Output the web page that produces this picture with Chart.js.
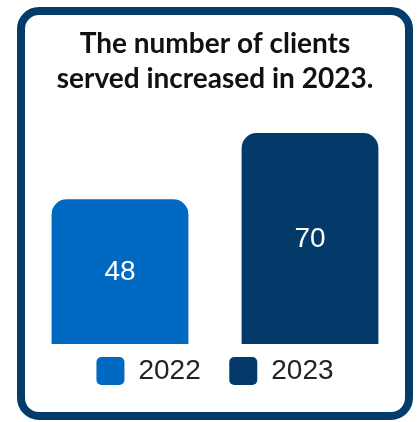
<!DOCTYPE html>
<html lang="en">
<head>
  <meta charset="UTF-8">
  <title>Clients served</title>
  <script src="https://cdn.jsdelivr.net/npm/chart.js"></script>
  <style>
    html, body { margin: 0; padding: 0; background: #fff; }
    .card {
      position: absolute;
      left: 17px; top: 7px;
      width: 396px; height: 413px;
      box-sizing: border-box;
      border: 8px solid #033c6b;
      border-radius: 22px;
      background: #fff;
    }
    .chart-box { position: relative; width: 380px; height: 397px; }
  </style>
</head>
<body>

<div class="card">
  <div class="chart-box">
    <canvas id="grafik"></canvas>
  </div>
</div>

<script>
  const years = ['2022', '2023'];
  const clients = [48, 70];
  const barColors = ['#0069c2', '#033a69'];
  const titleLines = ['The number of clients', 'served increased in 2023.'];

  // white value text in the middle of each bar
  const labelDalamBar = {
    id: 'labelDalamBar',
    afterDatasetsDraw(chart) {
      const ctx = chart.ctx;
      const meta = chart.getDatasetMeta(0);
      ctx.save();
      ctx.fillStyle = '#ffffff';
      ctx.font = '28px "Liberation Sans", Arial, sans-serif';
      ctx.textAlign = 'center';
      ctx.textBaseline = 'middle';
      meta.data.forEach((bar, i) => {
        const mid = (bar.y + bar.base) / 2;
        ctx.fillText(String(clients[i]), bar.x, mid + 1);
      });
      ctx.restore();
    }
  };

  new Chart(document.getElementById('grafik'), {
    type: 'bar',
    data: {
      labels: years,
      datasets: [{
        label: 'Clients',
        data: clients,
        backgroundColor: barColors,
        borderRadius: { topLeft: 15, topRight: 15 },
        borderSkipped: false,
        barPercentage: 0.9,
        categoryPercentage: 0.8
      }]
    },
    options: {
      responsive: true,
      maintainAspectRatio: false,
      animation: false,
      layout: { padding: { left: 0, right: 0, top: 0, bottom: 17 } },
      scales: {
        x: { display: false },
        y: { display: false, beginAtZero: true, max: 70 }
      },
      plugins: {
        tooltip: { enabled: false },
        title: {
          display: true,
          text: titleLines,
          color: '#111111',
          font: { family: 'Lato', weight: 'bold', size: 28, lineHeight: 1.25 },
          padding: { top: 11, bottom: 37 }
        },
        legend: {
          position: 'bottom',
          labels: {
            boxWidth: 28,
            boxHeight: 28,
            useBorderRadius: true,
            borderRadius: 5,
            padding: 13,
            color: '#222222',
            font: { family: '"Liberation Sans", Arial, sans-serif', size: 28 },
            // extra space after the first year so the two items sit further apart
            generateLabels: () => years.map((y, i) => ({
              text: i < years.length - 1 ? y + '\u00a0\u00a0' : y,
              fillStyle: barColors[i],
              strokeStyle: barColors[i],
              lineWidth: 0,
              borderRadius: 5,
              fontColor: '#222222',
              index: i
            }))
          }
        }
      }
    },
    plugins: [labelDalamBar]
  });
</script>

</body>
</html>
